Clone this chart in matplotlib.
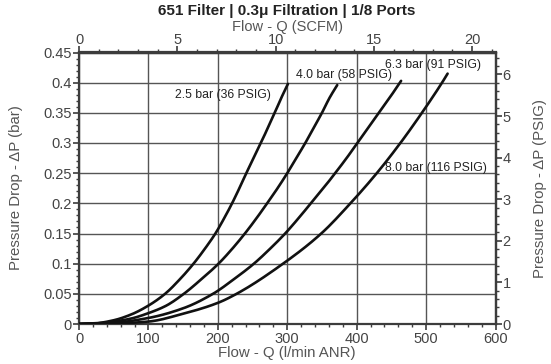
import matplotlib
matplotlib.use("Agg")
import numpy as np
import matplotlib.pyplot as plt
from matplotlib.ticker import MultipleLocator, FixedLocator, FuncFormatter

plt.rcParams['font.family'] = ['Liberation Sans', 'DejaVu Sans']

# ---- data (flow l/min ANR, pressure drop bar) ----
flow_25 = [0, 25, 50, 75, 100, 124, 146, 165, 181.5, 196.5, 209, 220.5, 231, 241, 251.5, 262, 272, 282, 291.5, 301]
dp_25 = [0, 0.0013, 0.0062, 0.0157, 0.0305, 0.05, 0.075, 0.10, 0.125, 0.15, 0.175, 0.20, 0.225,
         0.25, 0.275, 0.30, 0.325, 0.35, 0.375, 0.398]

flow_40 = [0, 25, 50, 75, 100, 125, 151, 177, 201, 221, 239, 255.5, 271, 286, 300, 313, 326, 338, 350, 361, 372]
dp_40 = [0, 0.001, 0.004, 0.009, 0.018, 0.030, 0.05, 0.075, 0.10, 0.125, 0.15, 0.175, 0.20, 0.225,
         0.25, 0.275, 0.30, 0.325, 0.35, 0.375, 0.396]

flow_63 = [0, 50, 100, 150, 193, 224, 252, 275.5, 297, 316, 334, 352, 369, 385.5, 401, 416.5, 432, 447.5, 464]
dp_63 = [0, 0.002, 0.010, 0.026, 0.05, 0.075, 0.10, 0.125, 0.15, 0.175, 0.20, 0.225, 0.25, 0.275,
         0.30, 0.325, 0.35, 0.375, 0.403]

flow_80 = [0, 50, 100, 150, 200, 227, 294, 349, 391, 429, 463, 494, 523, 531]
dp_80 = [0, 0.0008, 0.004, 0.017, 0.035, 0.05, 0.10, 0.15, 0.20, 0.25, 0.30, 0.35, 0.40, 0.415]

series_labels = ["2.5 bar (36 PSIG)", "4.0 bar (58 PSIG)", "6.3 bar (91 PSIG)", "8.0 bar (116 PSIG)"]
label_pos = [(276, 0.380, 'right'), (313, 0.412, 'left'), (441, 0.430, 'left'), (441, 0.259, 'left')]

title = "651 Filter | 0.3\u03bc Filtration | 1/8 Ports"
x_label = "Flow - Q (l/min ANR)"
x2_label = "Flow - Q (SCFM)"
y_label = "Pressure Drop - \u0394P (bar)"
y2_label = "Pressure Drop - \u0394P (PSIG)"

x_ticks = [0, 100, 200, 300, 400, 500, 600]
y_ticks = [0, 0.05, 0.1, 0.15, 0.2, 0.25, 0.3, 0.35, 0.4, 0.45]
scfm_ticks = [0, 5, 10, 15, 20]
psig_ticks = [0, 1, 2, 3, 4, 5, 6]

LPM_PER_SCFM = 28.317
PSI_PER_BAR = 14.5038


def smooth_line(xs, ys, n=12):
    """Monotone cubic (PCHIP) drawing of a line through the given points."""
    x = np.asarray(xs, float)
    y = np.asarray(ys, float)
    h = np.diff(x)
    d = np.diff(y) / h
    m = np.zeros_like(x)
    for k in range(1, len(x) - 1):
        if d[k - 1] * d[k] > 0:
            w1 = 2 * h[k] + h[k - 1]
            w2 = h[k] + 2 * h[k - 1]
            m[k] = (w1 + w2) / (w1 / d[k - 1] + w2 / d[k])
    m[0] = d[0]
    m[-1] = d[-1]
    px, py = [], []
    for k in range(len(x) - 1):
        t = np.linspace(0, 1, n, endpoint=(k == len(x) - 2))
        h00 = 2 * t**3 - 3 * t**2 + 1
        h10 = t**3 - 2 * t**2 + t
        h01 = -2 * t**3 + 3 * t**2
        h11 = t**3 - t**2
        px.append(x[k] + t * h[k])
        py.append(h00 * y[k] + h10 * h[k] * m[k] + h01 * y[k + 1] + h11 * h[k] * m[k + 1])
    return np.concatenate(px), np.concatenate(py)


W, H = 551, 364
fig = plt.figure(figsize=(W / 100, H / 100), dpi=100)
L, R, T, B = 79, 495.5, 52.5, 324
ax = fig.add_axes([L / W, 1 - B / H, (R - L) / W, (B - T) / H])

axc = '#3c3c3c'
txtc = '#444444'
gridc = '#555555'

for f, d in [(flow_25, dp_25), (flow_40, dp_40), (flow_63, dp_63), (flow_80, dp_80)]:
    sx, sy = smooth_line(f, d)
    ax.plot(sx, sy, color='#111111', lw=1.9, solid_capstyle='round', zorder=3)

for lab, (x, y, ha) in zip(series_labels, label_pos):
    ax.text(x, y, lab, fontsize=8.8, color='#222222', ha=ha, va='center', zorder=4)

ax.set_xlim(0, 600)
ax.set_ylim(0, 0.45)
ax.xaxis.set_major_locator(FixedLocator(x_ticks))
ax.xaxis.set_minor_locator(MultipleLocator(20))
ax.yaxis.set_major_locator(FixedLocator(y_ticks))
ax.yaxis.set_minor_locator(MultipleLocator(0.01))
ax.yaxis.set_major_formatter(FuncFormatter(lambda v, p: ('%g' % round(v, 3))))
ax.grid(True, which='major', color=gridc, lw=1.0)
ax.set_axisbelow(True)

for s in ax.spines.values():
    s.set_color(axc)
    s.set_linewidth(1.6)

ax.tick_params(which='major', direction='out', length=4, width=1.2, color=axc,
               labelsize=10.5, labelcolor=txtc)
ax.tick_params(axis='y', which='major', pad=1)
ax.tick_params(axis='x', which='major', pad=1.5)
ax.tick_params(which='minor', direction='out', length=2.5, width=1.0, color=axc)

top = ax.secondary_xaxis('top', functions=(lambda q: q / LPM_PER_SCFM, lambda s: s * LPM_PER_SCFM))
top.xaxis.set_major_locator(FixedLocator(scfm_ticks))
top.xaxis.set_minor_locator(FixedLocator(list(range(0, 22))))
top.tick_params(which='major', direction='out', length=4, width=1.2, color=axc,
                labelsize=10.5, labelcolor=txtc, pad=0)
top.tick_params(which='minor', direction='out', length=2.5, width=1.0, color=axc)
top.spines['top'].set_color(axc)
top.spines['top'].set_linewidth(1.6)

right = ax.secondary_yaxis('right', functions=(lambda b: b * PSI_PER_BAR, lambda p: p / PSI_PER_BAR))
right.yaxis.set_major_locator(FixedLocator(psig_ticks))
right.yaxis.set_minor_locator(FixedLocator([i * 0.2 for i in range(0, 33)]))
right.tick_params(which='major', direction='out', length=4, width=1.2, color=axc,
                  labelsize=10.5, labelcolor=txtc, pad=1)
right.tick_params(which='minor', direction='out', length=2.5, width=1.0, color=axc)
right.spines['right'].set_color(axc)
right.spines['right'].set_linewidth(1.6)

fig.text(287 / W, 1 - 11.5 / H, title, fontsize=11, fontweight='bold', color='#222222',
         ha='center', va='center')
fig.text(287 / W, 1 - 26.5 / H, x2_label, fontsize=10.5, color='#555555', ha='center', va='center')
fig.text(287 / W, 1 - 353 / H, x_label, fontsize=10.8, color='#555555', ha='center', va='center')
fig.text(16 / W, 1 - 188 / H, y_label, fontsize=10.8, color='#555555', ha='center', va='center',
         rotation=90)
fig.text(540 / W, 1 - 188 / H, y2_label, fontsize=10.8, color='#555555', ha='center', va='center',
         rotation=90)

fig.savefig('out.png', dpi=100)
